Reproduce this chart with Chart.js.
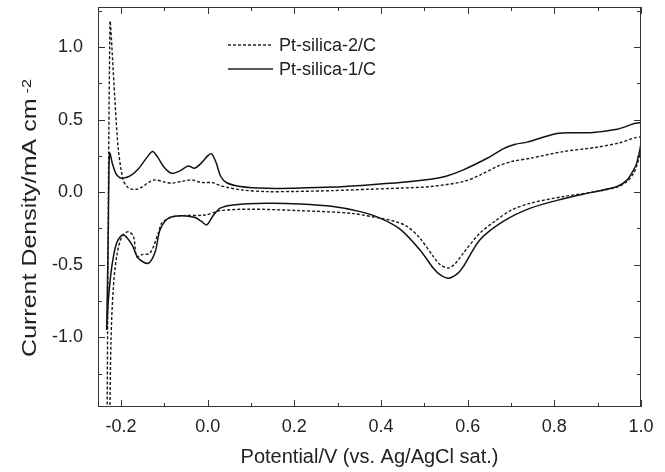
<!DOCTYPE html>
<html>
<head>
<meta charset="utf-8">
<script src="https://cdn.jsdelivr.net/npm/chart.js@4.4.1/dist/chart.umd.min.js"></script>
<style>
  html, body { margin: 0; padding: 0; background: #fff; }
  #wrap { width: 665px; height: 472px; position: relative; }
</style>
</head>
<body>
<div id="wrap"><canvas id="cv"></canvas></div>
<script>
const FONT = '"Liberation Sans", Arial, sans-serif';
const INK = '#222';

// Pt-silica-1/C (solid): anodic sweep then cathodic sweep back
const silica1X = [-0.233, -0.231, -0.229, -0.228, -0.226, -0.22, -0.212, -0.203, -0.195, -0.18, -0.16, -0.14, -0.127, -0.115, -0.1, -0.083, -0.065, -0.045, -0.03, -0.015, 0.0, 0.009, 0.02, 0.03, 0.044, 0.075, 0.136, 0.2, 0.29, 0.37, 0.444, 0.514, 0.55, 0.59, 0.645, 0.683, 0.71, 0.737, 0.77, 0.806, 0.845, 0.883, 0.945, 1.0,
  1.0, 0.99, 0.983, 0.968, 0.945, 0.883, 0.821, 0.745, 0.683, 0.628, 0.59, 0.575, 0.556, 0.537, 0.521, 0.49, 0.444, 0.398, 0.352, 0.29, 0.213, 0.136, 0.059, 0.029, 0.013, -0.002, -0.015, -0.029, -0.06, -0.091, -0.11, -0.121, -0.137, -0.16, -0.175, -0.195, -0.21, -0.221, -0.229, -0.233];
const silica1Y = [-0.95, -0.6, -0.2, 0.1, 0.27, 0.2, 0.13, 0.1, 0.097, 0.11, 0.16, 0.24, 0.28, 0.24, 0.17, 0.13, 0.145, 0.18, 0.165, 0.2, 0.25, 0.265, 0.2, 0.11, 0.065, 0.04, 0.027, 0.028, 0.035, 0.05, 0.066, 0.09, 0.11, 0.154, 0.234, 0.3, 0.33, 0.345, 0.375, 0.405, 0.41, 0.41, 0.434, 0.476,
  0.34, 0.2, 0.154, 0.085, 0.039, -0.003, -0.045, -0.11, -0.2, -0.329, -0.513, -0.565, -0.593, -0.57, -0.524, -0.398, -0.255, -0.179, -0.134, -0.099, -0.081, -0.076, -0.088, -0.11, -0.16, -0.225, -0.2, -0.175, -0.163, -0.18, -0.26, -0.41, -0.49, -0.455, -0.36, -0.294, -0.35, -0.51, -0.74, -0.95];

// Pt-silica-2/C (dashed)
const silica2X = [-0.232, -0.23, -0.228, -0.226, -0.225, -0.22, -0.214, -0.206, -0.195, -0.185, -0.175, -0.164, -0.152, -0.135, -0.121, -0.1, -0.083, -0.06, -0.037, -0.02, -0.006, 0.011, 0.025, 0.044, 0.08, 0.136, 0.2, 0.29, 0.37, 0.444, 0.514, 0.59, 0.63, 0.668, 0.7, 0.745, 0.821, 0.899, 0.95, 1.0,
  1.0, 0.99, 0.983, 0.968, 0.945, 0.883, 0.821, 0.745, 0.7, 0.667, 0.628, 0.59, 0.572, 0.556, 0.537, 0.521, 0.49, 0.46, 0.43, 0.398, 0.329, 0.213, 0.098, 0.029, -0.006, -0.068, -0.09, -0.106, -0.114, -0.133, -0.152, -0.164, -0.171, -0.183, -0.198, -0.21, -0.218, -0.223, -0.226];
const silica2Y = [-1.6, -0.5, 0.4, 1.0, 1.18, 0.95, 0.637, 0.292, 0.085, 0.035, 0.021, 0.02, 0.035, 0.07, 0.085, 0.07, 0.062, 0.075, 0.085, 0.07, 0.066, 0.066, 0.05, 0.034, 0.015, 0.004, 0.005, 0.011, 0.02, 0.028, 0.039, 0.073, 0.12, 0.177, 0.21, 0.234, 0.28, 0.31, 0.34, 0.379,
  0.3, 0.18, 0.13, 0.075, 0.035, -0.002, -0.03, -0.076, -0.125, -0.191, -0.283, -0.42, -0.49, -0.522, -0.5, -0.444, -0.317, -0.235, -0.2, -0.179, -0.145, -0.127, -0.117, -0.127, -0.157, -0.163, -0.18, -0.214, -0.283, -0.42, -0.43, -0.444, -0.306, -0.272, -0.306, -0.444, -0.674, -1.02, -1.6];

const seriesNames = ['Pt-silica-2/C', 'Pt-silica-1/C'];
const xRange = [-0.253, 1.0];
const yRange = [-1.48, 1.276];
const xMinor = [-0.2, -0.1, 0.0, 0.1, 0.2, 0.3, 0.4, 0.5, 0.6, 0.7, 0.8, 0.9, 1.0];
const yMinor = [-1.25, -1.0, -0.75, -0.5, -0.25, 0.0, 0.25, 0.5, 0.75, 1.0, 1.25];

function toPoints(xs, ys) {
  return xs.map((x, i) => ({ x: x, y: ys[i] }));
}

// box, inward ticks on all four sides, legend and y title
const frame = {
  id: 'frame',
  afterDraw(chart) {
    const { ctx, chartArea: a, scales } = chart;
    const sx = scales.x, sy = scales.y;
    ctx.save();
    ctx.strokeStyle = '#333';
    ctx.lineWidth = 1;
    ctx.strokeRect(Math.round(a.left) + 0.5, Math.round(a.top) + 0.5, Math.round(a.right - a.left) - 1, Math.round(a.bottom - a.top) - 1);

    ctx.beginPath();
    xMinor.forEach((v, i) => {
      const len = i % 2 === 0 ? 7 : 4;
      const px = Math.round(sx.getPixelForValue(v)) + 0.5;
      ctx.moveTo(px, a.bottom); ctx.lineTo(px, a.bottom - len);
      ctx.moveTo(px, a.top); ctx.lineTo(px, a.top + len);
    });
    yMinor.forEach((v) => {
      const len = Math.abs(v * 2 - Math.round(v * 2)) < 1e-6 ? 7 : 4;
      const py = Math.round(sy.getPixelForValue(v)) + 0.5;
      ctx.moveTo(a.left, py); ctx.lineTo(a.left + len, py);
      ctx.moveTo(a.right, py); ctx.lineTo(a.right - len, py);
    });
    ctx.stroke();

    // legend
    ctx.font = '18px ' + FONT;
    ctx.fillStyle = INK;
    ctx.textBaseline = 'middle';
    ctx.textAlign = 'left';
    chart.data.datasets.forEach((ds, i) => {
      const ly = 45 + i * 24;
      ctx.beginPath();
      ctx.lineWidth = 1.3;
      ctx.strokeStyle = '#222';
      ctx.setLineDash(ds.borderDash || []);
      ctx.moveTo(228, ly); ctx.lineTo(273, ly);
      ctx.stroke();
      ctx.setLineDash([]);
      ctx.fillText(ds.label, 279, ly + 1);
    });

    // y axis title with superscript, stretched along its length like the original
    const main = 'Current Density/mA cm';
    const sup = '-2';
    const stretch = 1.25;
    ctx.font = '20px ' + FONT;
    const wMain = ctx.measureText(main).width;
    ctx.font = '13px ' + FONT;
    const wSup = ctx.measureText(sup).width;
    ctx.translate(30, 218);
    ctx.rotate(-Math.PI / 2);
    ctx.scale(stretch, 1);
    const start = -(wMain + wSup + 4) / 2;
    ctx.font = '20px ' + FONT;
    ctx.fillText(main, start, 0);
    ctx.font = '13px ' + FONT;
    ctx.fillText(sup, start + wMain + 4, -3);
    ctx.restore();
  }
};

new Chart(document.getElementById('cv'), {
  type: 'scatter',
  data: {
    datasets: [{
      label: seriesNames[0],
      data: toPoints(silica2X, silica2Y),
      showLine: true,
      borderColor: '#1a1a1a',
      borderWidth: 1.4,
      borderDash: [3, 2],
      pointRadius: 0,
      tension: 0.3
    }, {
      label: seriesNames[1],
      data: toPoints(silica1X, silica1Y),
      showLine: true,
      borderColor: '#111',
      borderWidth: 1.5,
      pointRadius: 0,
      tension: 0.3
    }]
  },
  options: {
    responsive: true,
    maintainAspectRatio: false,
    animation: false,
    layout: { padding: { top: 7, right: 24, left: 0, bottom: 0 } },
    plugins: { legend: { display: false }, tooltip: { enabled: false } },
    scales: {
      x: {
        type: 'linear',
        min: xRange[0],
        max: xRange[1],
        grid: { display: false, drawTicks: false },
        border: { display: false },
        ticks: {
          stepSize: 0.2,
          includeBounds: false,
          maxRotation: 0,
          padding: 9,
          color: INK,
          font: { family: FONT, size: 18 },
          callback: (v) => v.toFixed(1)
        },
        title: {
          display: true,
          text: 'Potential/V (vs. Ag/AgCl sat.)',
          color: INK,
          font: { family: FONT, size: 20 },
          padding: { top: 3, bottom: 3 }
        },
        afterFit: (scale) => { scale.height = 65; scale.paddingLeft = 0; scale.paddingRight = 0; }
      },
      y: {
        type: 'linear',
        min: yRange[0],
        max: yRange[1],
        grid: { display: false, drawTicks: false },
        border: { display: false },
        ticks: {
          stepSize: 0.5,
          includeBounds: false,
          padding: 15,
          color: INK,
          font: { family: FONT, size: 18 },
          callback: (v) => v.toFixed(1)
        },
        afterFit: (scale) => { scale.width = 98; scale.paddingTop = 0; scale.paddingBottom = 0; }
      }
    }
  },
  plugins: [frame]
});
</script>
</body>
</html>
